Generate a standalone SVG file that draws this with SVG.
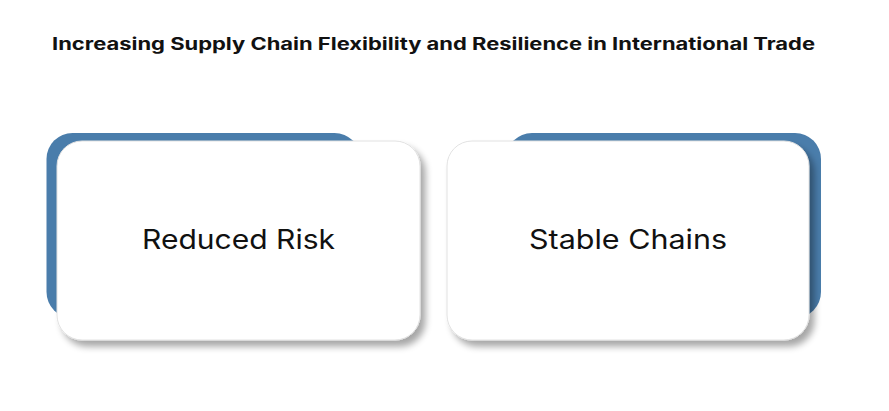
<svg xmlns="http://www.w3.org/2000/svg" width="889" height="411" viewBox="0 0 889 411">
<defs>
<filter id="sh" x="-10%" y="-10%" width="125%" height="130%">
<feGaussianBlur in="SourceAlpha" stdDeviation="3.5"/>
<feOffset dx="5" dy="6" result="b"/>
<feComponentTransfer><feFuncA type="linear" slope="0.35"/></feComponentTransfer>
<feMerge><feMergeNode/><feMergeNode in="SourceGraphic"/></feMerge>
</filter>
<style>
.back{fill:#4a7dab}
.card{fill:#ffffff;stroke:#e2e2e2;stroke-width:1}
.lbl{font-family:Inter,"Noto Sans","DejaVu Sans",sans-serif;font-size:27px;fill:#111;text-anchor:middle}
.title{font-family:Inter,"Noto Sans","DejaVu Sans",sans-serif;font-size:17px;font-weight:700;fill:#111;text-anchor:middle}
</style>
</defs>
<rect width="889" height="411" fill="#ffffff"/>
<text class="title" x="433.5" y="50" textLength="763" lengthAdjust="spacingAndGlyphs">Increasing Supply Chain Flexibility and Resilience in International Trade</text>
<g id="node-reduced-risk">
<rect class="back" x="46.5" y="133" width="314" height="185" rx="26"/>
<rect class="card" x="57" y="141" width="363" height="199" rx="25" filter="url(#sh)"/>
<text class="lbl" x="238.5" y="249" textLength="193" lengthAdjust="spacingAndGlyphs">Reduced Risk</text>
</g>
<g id="node-stable-chains">
<rect class="back" x="506" y="133" width="315" height="185" rx="26"/>
<rect class="card" x="447" y="141" width="362" height="199" rx="25" filter="url(#sh)"/>
<text class="lbl" x="628" y="249" textLength="198" lengthAdjust="spacingAndGlyphs">Stable Chains</text>
</g>
<g id="connectors"/>
</svg>
